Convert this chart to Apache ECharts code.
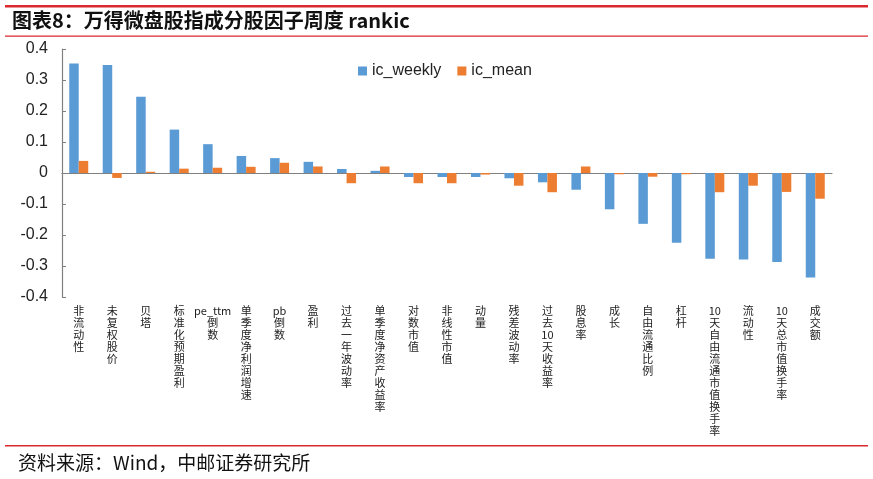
<!DOCTYPE html>
<html><head><meta charset="utf-8">
<script src="https://cdn.jsdelivr.net/npm/echarts@6/dist/echarts.min.js"></script>
<style>html,body{margin:0;padding:0;background:#fff}#c{width:873px;height:479px}</style>
</head><body><div id="c"></div>
<script>
const categories = ['非流动性','未复权股价','贝塔','标准化预期盈利','pe_ttm倒数','单季度净利润增速','pb倒数','盈利','过去一年波动率','单季度净资产收益率','对数市值','非线性市值','动量','残差波动率','过去10天收益率','股息率','成长','自由流通比例','杠杆','10天自由流通市值换手率','流动性','10天总市值换手率','成交额'];
const icWeekly = [0.353,0.348,0.246,0.140,0.093,0.055,0.048,0.036,0.013,0.007,-0.013,-0.013,-0.013,-0.017,-0.030,-0.054,-0.117,-0.164,-0.225,-0.277,-0.279,-0.287,-0.337];
const icMean = [0.039,-0.016,0.004,0.014,0.017,0.020,0.033,0.021,-0.033,0.021,-0.033,-0.033,-0.005,-0.041,-0.062,0.021,-0.004,-0.012,-0.004,-0.062,-0.041,-0.061,-0.083];
const seriesNames = ['ic_weekly','ic_mean'];
const titleText = '图表8：万得微盘股指成分股因子周度 rankic';
const sourceText = '资料来源：Wind，中邮证券研究所';

const chart = echarts.init(document.getElementById('c'), null, {renderer:'canvas'});
const red = '#D9282E';
chart.setOption({
  animation:false,
  backgroundColor:'#fff',
  graphic:[
    {type:'rect',shape:{x:5,y:5,width:863,height:2.5},style:{fill:red},silent:true},
    {type:'rect',shape:{x:5,y:35.5,width:863,height:1.2},style:{fill:red},silent:true},
    {type:'rect',shape:{x:5,y:445,width:863,height:1.5},style:{fill:red},silent:true},
    {type:'text',left:12,top:10,style:{text:titleText,font:'bold 20px "Noto Sans CJK SC"',fill:'#111'}},
    {type:'text',left:18,top:453,style:{text:sourceText,font:'19px "Noto Sans CJK SC"',fill:'#111'}}
  ],
  legend:{data:seriesNames,left:353,top:58,itemWidth:9,itemHeight:9,itemGap:16,icon:'rect',
    textStyle:{fontFamily:'Liberation Sans',fontSize:16,color:'#222'}},
  grid:{left:62,right:41,top:49,bottom:182,containLabel:false,outerBoundsMode:'none'},
  xAxis:{type:'category',data:categories,
    axisLine:{onZero:true,lineStyle:{color:'#808080',width:1.2}},
    axisTick:{inside:true,length:4,lineStyle:{color:'#808080'}},
    axisLabel:{interval:0,margin:8,fontSize:11,lineHeight:12,color:'#222',fontFamily:'Noto Sans CJK SC',
      formatter:v=>v.match(/[A-Za-z0-9_]+|[\s\S]/g).join('\n')},
    splitLine:{show:false}},
  yAxis:{type:'value',min:-0.4,max:0.4,interval:0.1,
    axisLine:{show:true,lineStyle:{color:'#808080',width:1.2}},
    axisTick:{show:true,inside:true,length:4,lineStyle:{color:'#808080'}},
    axisLabel:{margin:14,fontSize:16,color:'#222',fontFamily:'Liberation Sans',formatter:v=>String(Math.round(v*10)/10)},
    splitLine:{show:false}},
  series:[
    {name:seriesNames[0],type:'bar',data:icWeekly,barWidth:9.5,barGap:'0%',itemStyle:{color:'#5B9BD5'}},
    {name:seriesNames[1],type:'bar',data:icMean,barWidth:9.5,barGap:'0%',itemStyle:{color:'#ED7D31'}}
  ]
});
</script></body></html>
